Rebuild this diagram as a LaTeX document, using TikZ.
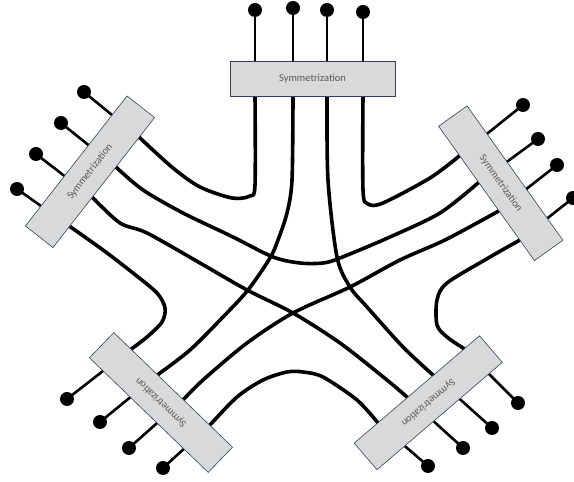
\documentclass[tikz,border=0pt]{standalone}
\usepackage{fontspec}
\setmainfont{Carlito}
\usepackage{tikz}
\usetikzlibrary{calc}
\definecolor{boxfill}{RGB}{217,217,217}
\definecolor{boxline}{RGB}{52,64,92}
\definecolor{boxtext}{RGB}{89,89,89}

\begin{document}
\begin{tikzpicture}[x=1pt, y=1pt,
  symbox/.style={draw=boxline, line width=0.6pt, fill=boxfill, minimum width=165pt,
    minimum height=35pt, inner sep=0pt, text=boxtext, font=\fontsize{10.5}{12}\selectfont},
  stub/.style={line width=2.6pt},
  wire/.style={line width=3.6pt, line cap=round, line join=round},
  pin/.style={circle, fill=black, inner sep=0pt, minimum size=14pt}]
  \useasboundingbox (0,0) rectangle (574,482);

  % outer pin and inner edge of every line
  \foreach \n/\ox/\oy/\ix/\iy in {
    T1/255/472/255/386, T2/293/474/293/386, T3/327/472/327/386, T4/363/470/363/386,
    LT1/17/293/72/254, LT2/36/328/93/284, LT3/61/359/117/314, LT4/84/390/140/344,
    RT1/523/377/458/325, RT2/538/343/478/299, RT3/557/317/497/270, RT4/573/284/520/242,
    LB1/163/14/210/57, LB2/129/34/183/82, LB3/100/60/160/109, LB4/67/83/130/132,
    RB1/518/79/463/134, RB2/492/54/433/107, RB3/463/34/407/85, RB4/428/16/378/59}
  {
    \coordinate (\n-o) at (\ox,\oy);
    \coordinate (\n-i) at (\ix,\iy);
    \draw[stub] (\n-o) -- (\n-i);
    \node[pin] (\n-pin) at (\n-o) {};
  }

  % wires between the boxes
  \draw[wire] ($(T1-i)!6pt!(T1-o)$) -- plot[smooth] coordinates {(T1-i) (255,297) (250,286) (232,284) (200,295) (173,314) (LT4-i)} -- ($(LT4-i)!6pt!(LT4-o)$);
  \draw[wire] ($(T4-i)!6pt!(T4-o)$) -- plot[smooth] coordinates {(T4-i) (363,292) (368,278) (383,279) (430,304) (RT1-i)} -- ($(RT1-i)!6pt!(RT1-o)$);
  \draw[wire] ($(RT4-i)!6pt!(RT4-o)$) -- plot[smooth] coordinates {(RT4-i) (490,225) (447,199) (437,182) (437,157) (447,145) (RB1-i)} -- ($(RB1-i)!6pt!(RB1-o)$);
  \draw[wire] ($(LB1-i)!6pt!(LB1-o)$) -- plot[smooth] coordinates {(LB1-i) (237,85) (263,102) (287,110) (303,110) (323,105) (357,82) (RB4-i)} -- ($(RB4-i)!6pt!(RB4-o)$);
  \draw[wire] ($(LT1-i)!6pt!(LT1-o)$) -- plot[smooth] coordinates {(LT1-i) (103,232) (133,209) (157,189) (165,174) (162,160) (147,145) (LB4-i)} -- ($(LB4-i)!6pt!(LB4-o)$);
  \draw[wire] ($(LT3-i)!6pt!(LT3-o)$) -- plot[smooth] coordinates {(LT3-i) (143,292) (183,269) (233,245) (273,225) (300,219) (323,219) (340,224) (390,245) (440,269) (RT2-i)} -- ($(RT2-i)!6pt!(RT2-o)$);
  \draw[wire] ($(LT2-i)!6pt!(LT2-o)$) -- plot[smooth] coordinates {(LT2-i) (120,259) (147,249) (200,219) (247,192) (293,169) (340,139) (387,102) (RB3-i)} -- ($(RB3-i)!6pt!(RB3-o)$);
  \draw[wire] ($(T2-i)!6pt!(T2-o)$) -- plot[smooth] coordinates {(T2-i) (292,302) (287,269) (278,242) (270,224) (248,192) (223,165) (190,132) (LB3-i)} -- ($(LB3-i)!6pt!(LB3-o)$);
  \draw[wire] ($(T3-i)!6pt!(T3-o)$) -- plot[smooth] coordinates {(T3-i) (328,302) (337,225) (350,195) (367,175) (403,135) (RB2-i)} -- ($(RB2-i)!6pt!(RB2-o)$);
  \draw[wire] ($(RT3-i)!6pt!(RT3-o)$) -- plot[smooth] coordinates {(RT3-i) (445,242) (400,222) (350,195) (293,169) (247,139) (203,102) (LB2-i)} -- ($(LB2-i)!6pt!(LB2-o)$);

  % the five boxes
  \foreach \b/\x/\y/\r in {T/312.5/403.5/0, LT/90/310.25/52, RT/500.75/298.75/-54.5,
    LB/161/79.5/136, RB/428.25/79.25/220.6}
    \node[symbox, rotate=\r] (\b) at (\x,\y) {Symmetrization};
\end{tikzpicture}
\end{document}
